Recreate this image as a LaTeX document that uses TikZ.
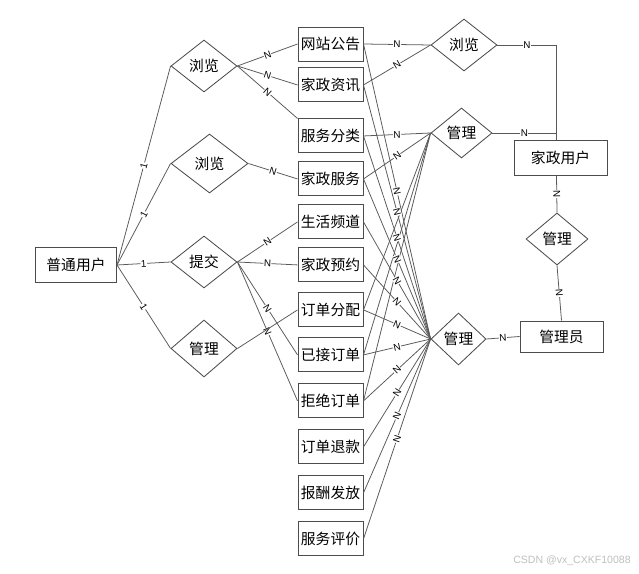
\documentclass[tikz,border=0pt]{standalone}
\usepackage{fontspec}
\setsansfont{Liberation Sans}
\newfontfamily\cjk{Noto Sans CJK SC}
\usetikzlibrary{positioning,shapes.geometric}

\begin{document}
\begin{tikzpicture}[
node distance=0.25cm,
line/.style={draw=black!65, line width=0.55pt},
ent/.style={draw=black!70, line width=0.7pt, font=\cjk\fontsize{10.5}{12}\selectfont, minimum width=1.625cm, minimum height=0.85cm, inner sep=1pt},
rel/.style={diamond, aspect=1.3, draw=black!70, line width=0.6pt, font=\cjk\fontsize{10.5}{12}\selectfont, minimum width=1.65cm, minimum height=1.3cm, inner sep=0pt},
card/.style={font=\sffamily\fontsize{7}{8}\selectfont, sloped, fill=white, inner sep=0.3pt}
]
\useasboundingbox (0,0) rectangle (15.975,-14.325);
\node[ent, minimum width=2.025cm, minimum height=0.875cm] (ptyh) at (1.9,-6.625) {普通用户};
\node[ent] (wzgg) at (8.2625,-1.1) {网站公告};
\node[ent, below=0.15cm of wzgg] (jzzx) {家政资讯};
\node[ent, below=0.4cm of jzzx] (fwfl) {服务分类};
\node[ent, below=0.2cm of fwfl] (jzfw) {家政服务};
\node[ent, below=0.2cm of jzfw] (shpd) {生活频道};
\node[ent, below=0.2cm of shpd] (jzyy) {家政预约};
\node[ent, below=of jzyy] (ddfp) {订单分配};
\node[ent, below=of ddfp] (yjdd) {已接订单};
\node[ent, below=0.275cm of yjdd] (jjdd) {拒绝订单};
\node[ent, below=0.275cm of jjdd] (ddtk) {订单退款};
\node[ent, below=0.275cm of ddtk] (bcff) {报酬发放};
\node[ent, below=0.275cm of bcff] (fwpj) {服务评价};
\node[ent, minimum width=2.325cm, minimum height=0.875cm] (jzyh) at (14.0125,-3.9375) {家政用户};
\node[ent, minimum width=2.075cm, minimum height=0.775cm] (gly) at (14.0375,-8.4125) {管理员};
\coordinate (jzyhtop) at ([xshift=-0.1cm]jzyh.north);

\node[rel] (ll1) at (5.1,-1.65) {浏览};
\node[rel, minimum width=1.925cm, minimum height=1.475cm] (ll2) at (5.2375,-4.0875) {浏览};
\node[rel] (tj) at (5.1,-6.55) {提交};
\node[rel, minimum height=1.425cm] (gl1) at (5.1,-8.7125) {管理};
\node[rel] (ll3) at (11.6,-1.125) {浏览};
\node[rel, minimum width=1.525cm, minimum height=1.25cm] (gl2) at (11.5375,-3.325) {管理};
\node[rel, minimum width=1.55cm] (gl3) at (13.925,-5.975) {管理};
\node[rel, minimum width=1.375cm] (gl4) at (11.4625,-8.475) {管理};

\draw[line] (ptyh.east) -- node[card]{1} (ll1.west);
\draw[line] (ptyh.east) -- node[card]{1} (ll2.west);
\draw[line] (ptyh.east) -- node[card]{1} (tj.west);
\draw[line] (ptyh.east) -- node[card]{1} (gl1.west);

\draw[line] (ll1.east) -- node[card]{N} (wzgg.west);
\draw[line] (ll1.east) -- node[card]{N} (jzzx.west);
\draw[line] (ll1.east) -- node[card]{N} (fwfl.north west);
\draw[line] (ll2.east) -- node[card]{N} (jzfw.west);
\draw[line] (tj.east) -- node[card]{N} (shpd.west);
\draw[line] (tj.east) -- node[card]{N} (jzyy.west);
\draw[line] (tj.east) -- node[card]{N} (yjdd.west);
\draw[line] (tj.east) -- node[card]{N} (jjdd.west);
\draw[line] (gl1.east) -- (ddfp.west);

\draw[line] (wzgg.east) -- node[card]{N} (ll3.west);
\draw[line] (jzzx.east) -- node[card]{N} (ll3.west);
\draw[line] (fwfl.east) -- node[card]{N} (gl2.west);
\draw[line] (jzfw.east) -- node[card]{N} (gl2.west);
\draw[line] (gl2.west) -- (ddfp.east);
\draw[line] (gl2.west) -- (yjdd.east);
\draw[line] (gl2.west) -- (jjdd.east);

\draw[line] (wzgg.east) -- node[card]{N} (gl4.west);
\draw[line] (jzzx.east) -- node[card]{N} (gl4.west);
\draw[line] (fwfl.east) -- node[card]{N} (gl4.west);
\draw[line] (jzfw.east) -- node[card]{N} (gl4.west);
\draw[line] (shpd.east) -- node[card]{N} (gl4.west);
\draw[line] (jzyy.east) -- node[card]{N} (gl4.west);
\draw[line] (ddfp.east) -- node[card]{N} (gl4.west);
\draw[line] (yjdd.east) -- node[card]{N} (gl4.west);
\draw[line] (jjdd.east) -- node[card]{N} (gl4.west);
\draw[line] (ddtk.east) -- node[card]{N} (gl4.west);
\draw[line] (bcff.east) -- node[card]{N} (gl4.west);
\draw[line] (fwpj.east) -- node[card]{N} (gl4.west);

\draw[line] (ll3.east) -| node[card, pos=0.25]{N} (jzyhtop);
\draw[line] (gl2.east) -- node[card]{N} (gl2.east -| jzyhtop);
\draw[line] (jzyhtop |- jzyh.south) -- node[card]{N} (gl3.north);
\draw[line] (gl3.south) -- node[card]{N} (gly.north);
\draw[line] (gl4.east) -- node[card]{N} (gly.west);

\node[font=\sffamily\fontsize{7.5}{9}\selectfont, text=black!25] (wm) at (14.3,-14.025) {CSDN @vx\_CXKF10088};
\end{tikzpicture}
\end{document}
